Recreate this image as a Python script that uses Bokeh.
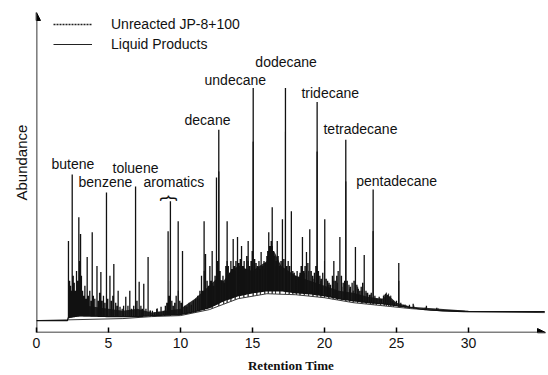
import numpy as np
from bokeh.plotting import figure
from bokeh.models import Range1d, FixedTicker, Arrow, NormalHead, Legend, LegendItem, Title
from bokeh.core.properties import value
from bokeh.embed import file_html
from bokeh.resources import INLINE

# ---------------- data ----------------
x_ticks = [0, 5, 10, 15, 20, 25, 30]

# Liquid Products: baseline (retention time, abundance)
liq_base_t = [0, 2.15, 2.2, 3, 5, 7, 8, 10, 11, 12, 13, 14, 15, 16, 17, 18, 19, 20, 21, 22, 23, 24, 25, 26, 27, 28, 30, 32, 35.3]
liq_base_y = [0, 0, 3, 5, 4, 4, 5, 6, 9, 13, 20, 25, 28, 30, 30, 28, 27, 25, 22, 20, 18, 17, 15, 13, 11, 10, 9, 9, 9]

# dense unresolved band of the liquid-product trace (lower / upper edge)
band_t = [2.2, 2.4, 3.0, 3.5, 4.0, 5.0, 6.0, 7.0, 8.0, 9.0, 10.0, 11.0, 12.0, 12.5, 13.0, 13.5, 14.0, 15.0,
          16.0, 16.5, 17.0, 18.0, 19.0, 20.0, 21.0, 22.0, 23.0, 24.0, 24.4, 25.0, 26.0, 28.0, 30.0]
band_lo = [2, 3, 4, 4, 4, 4, 4, 4, 5, 5, 6, 9, 13, 16, 20, 22, 25, 28,
           30, 30, 30, 28, 27, 25, 22, 20, 18, 17, 16, 15, 13, 10, 9]
band_hi = [20, 30, 25, 15, 14, 12, 10, 12, 8, 10, 12, 22, 35, 42, 40, 50, 55, 50,
           60, 70, 55, 45, 40, 35, 30, 28, 24, 22, 26, 18, 14, 12, 10]

# Liquid Products: peaks (retention time, apex abundance)
liq_peak_t = [2.22, 2.3, 2.36, 2.42, 2.48, 2.55, 2.62, 2.7, 2.78, 2.85, 2.94, 3.0, 3.06, 3.12, 3.2, 3.28, 3.36, 3.44,
              3.52, 3.6, 3.7, 3.8, 3.87, 3.95, 4.05, 4.2, 4.3, 4.38, 4.47, 4.55, 4.65, 4.75, 4.86, 4.95, 5.1, 5.2,
              5.3, 5.37, 5.5, 5.6, 5.67, 5.8, 5.95, 6.05, 6.2, 6.35, 6.48, 6.6, 6.75, 6.88, 6.98, 7.13, 7.25, 7.35,
              7.45, 7.6, 7.75, 7.9, 8.05, 8.2, 8.35, 8.5, 8.65, 8.8, 8.95, 9.05, 9.14, 9.22, 9.3, 9.4, 9.5, 9.6,
              9.7, 9.84, 9.95, 10.05, 10.14, 10.3, 10.45, 10.6, 10.75, 10.9, 11.05, 11.2, 11.35, 11.46, 11.55, 11.64,
              11.74, 11.85, 11.95, 12.04, 12.12, 12.2, 12.3, 12.4, 12.5, 12.58, 12.66, 12.75, 12.85, 12.95, 13.05,
              13.15, 13.24, 13.32, 13.42, 13.5, 13.58, 13.66, 13.75, 13.85, 13.96, 14.05, 14.15, 14.24, 14.33, 14.42,
              14.5, 14.6, 14.7, 14.8, 14.9, 14.98, 15.05, 15.15, 15.25, 15.35, 15.45, 15.52, 15.6, 15.7, 15.8, 15.9,
              16.0, 16.06, 16.13, 16.22, 16.3, 16.37, 16.45, 16.55, 16.65, 16.72, 16.78, 16.88, 16.98, 17.08, 17.18,
              17.29, 17.38, 17.48, 17.58, 17.7, 17.8, 17.9, 18.0, 18.1, 18.2, 18.3, 18.38, 18.47, 18.55, 18.65, 18.75,
              18.85, 18.98, 19.08, 19.18, 19.3, 19.4, 19.49, 19.58, 19.68, 19.78, 19.88, 20.02, 20.12, 20.22, 20.32,
              20.42, 20.55, 20.65, 20.75, 20.85, 20.95, 21.07, 21.18, 21.3, 21.4, 21.48, 21.58, 21.7, 21.8, 21.92,
              22.05, 22.15, 22.25, 22.35, 22.45, 22.55, 22.65, 22.76, 22.88, 23.0, 23.12, 23.25, 23.38, 23.5, 23.65,
              23.8, 23.95, 24.1, 24.25, 24.4, 24.55, 24.7, 24.85, 25.0, 25.16, 25.3, 25.5, 25.7, 25.9, 26.16, 26.4,
              26.7, 27.08, 27.4, 27.8, 28.2, 28.7, 29.2, 29.7, 30.3, 31.0, 31.8, 32.5]
liq_peak_h = [80, 40, 35, 30, 147, 45, 38, 30, 50, 40, 104, 60, 87, 45, 30, 25, 35, 22,
              64, 25, 30, 20, 89, 25, 22, 55, 20, 28, 49, 20, 25, 18, 129, 22, 45, 20,
              25, 57, 18, 15, 30, 14, 12, 15, 24, 15, 30, 12, 15, 135, 20, 39, 15, 12,
              37, 12, 64, 10, 10, 8, 12, 9, 14, 10, 15, 18, 90, 25, 120, 20, 15, 18,
              25, 100, 20, 18, 70, 15, 14, 18, 16, 20, 22, 25, 30, 45, 30, 100,
              67, 40, 35, 55, 40, 70, 35, 45, 144, 60, 192, 50, 40, 45, 38,
              55, 100, 55, 48, 60, 52, 82, 55, 60, 84, 58, 62, 75, 55, 60,
              52, 65, 80, 55, 60, 70, 234, 62, 58, 55, 60, 52, 69, 55, 60, 58,
              65, 70, 89, 75, 80, 114, 70, 65, 60, 80, 65, 55, 60, 102, 62,
              234, 55, 60, 55, 110, 50, 48, 45, 50, 44, 48, 55, 84, 50, 55, 69,
              58, 92, 50, 45, 48, 55, 220, 50, 45, 42, 48, 102, 42, 40, 38,
              36, 45, 60, 40, 45, 50, 84, 45, 38, 40, 182, 40, 36, 34, 38,
              40, 74, 36, 32, 30, 34, 38, 66, 30, 28, 26, 28, 132, 25, 22,
              24, 22, 25, 27, 26, 24, 20, 18, 20, 58, 18, 16, 15, 16, 17, 13,
              12, 15, 11, 13, 10, 10, 9, 10, 9, 9, 9, 9]

# Unreacted JP-8+100: baseline and peaks
unr_base_t = [0, 6, 8, 10, 12, 14, 16, 18, 20, 22, 24, 26, 28, 30, 35.3]
unr_base_y = [0, 2, 4, 5, 11, 22, 27, 26, 23, 18, 15, 12, 10, 9, 8]
unr_peak_t = [7.3, 7.9, 8.4, 8.9, 9.3, 9.85, 10.4, 10.9, 11.3, 11.65, 12.2, 12.66, 13.0, 13.24, 13.5, 13.8, 14.1,
              14.4, 14.7, 15.05, 15.3, 15.55, 15.85, 16.1, 16.37, 16.6, 16.9, 17.29, 17.55, 17.8, 18.05, 18.3, 18.6,
              18.9, 19.2, 19.49, 19.75, 20.0, 20.3, 20.6, 20.9, 21.2, 21.48, 21.75, 22.0, 22.3, 22.6, 22.9, 23.2,
              23.38, 23.6, 23.9, 24.15, 24.3, 24.45, 24.6, 24.8, 25.16, 25.6, 26.2, 27.0, 27.9, 29.0, 30.0]
unr_peak_h = [8, 10, 12, 10, 40, 30, 14, 18, 22, 50, 35, 150, 38, 60, 45, 50, 55,
              48, 60, 180, 50, 55, 52, 58, 75, 55, 52, 190, 50, 45, 42, 46, 48,
              50, 42, 170, 40, 60, 36, 40, 38, 34, 140, 32, 30, 34, 30, 28, 26,
              90, 22, 22, 26, 28, 27, 25, 20, 40, 16, 15, 13, 12, 10, 9]

# Peak annotations
label_text = ["butene", "benzene", "toluene", "aromatics", "decane", "undecane",
              "dodecane", "tridecane", "tetradecane", "pentadecane"]
label_t = [1.04, 2.92, 5.28, 7.43, 10.28, 11.67, 15.2, 18.4, 19.93, 22.2]
label_y = [158, 139, 154, 139, 202, 242, 260, 229, 193, 140]


def trace(bt, by, pt, ph):
    events = sorted([(t, 0, y) for t, y in zip(bt, by)] + [(t, 1, h) for t, h in zip(pt, ph)])
    xs, ys = [], []
    for t, kind, v in events:
        if kind == 0:
            xs.append(t); ys.append(v)
        else:
            b = float(np.interp(t, bt, by))
            xs += [t, t, t]; ys += [b, v, b]
    return xs, ys


X_END = 35.35
Y_START, Y_END = -12, 310

p = figure(width=548, height=375, x_range=Range1d(0, X_END), y_range=Range1d(Y_START, Y_END),
           output_backend="svg", toolbar_location=None,
           min_border_left=36, min_border_right=3, min_border_top=12, min_border_bottom=41)
p.grid.visible = False
p.outline_line_color = None
p.background_fill_color = "white"

# traces
ux, uy = trace(unr_base_t, unr_base_y, unr_peak_t, unr_peak_h)
lx, ly = trace(liq_base_t, liq_base_y, liq_peak_t, liq_peak_h)
p.line(ux, uy, line_color="#3a3a3a", line_width=1)
p.varea(x=band_t, y1=band_lo, y2=band_hi, fill_color="#1a1a1a", fill_alpha=0.92)
p.line(lx, ly, line_color="#111111", line_width=1.3)

# legend (proxy renderers placed outside the visible ranges)
r_u = p.line([-5, -4], [-60, -60], line_color="#222222", line_width=1.6, line_dash="2 1")
r_l = p.line([-5, -4], [-60, -60], line_color="#222222", line_width=1.2)
legend = Legend(items=[LegendItem(label="Unreacted JP-8+100", renderers=[r_u]),
                       LegendItem(label="Liquid Products", renderers=[r_l])],
                location=(17, 279), orientation="vertical",
                glyph_width=39, glyph_height=18, label_height=18, spacing=2,
                label_standoff=19, padding=0, margin=0,
                border_line_color=None, background_fill_alpha=0,
                label_text_font="Liberation Sans", label_text_font_size="14px",
                label_text_color="#111111")
p.add_layout(legend)

# peak labels
p.text(x=label_t, y=label_y, text=label_text, text_font=value("Liberation Sans"),
       text_font_size="14px", text_align="left", text_baseline="middle", text_color="#111111")
# brace over aromatics
p.text(x=[9.3], y=[123], text=["{"], angle=-np.pi / 2, text_font=value("Liberation Sans"),
       text_font_size="18px", text_align="center", text_baseline="middle", text_color="#111111")

# x axis
xa = p.xaxis[0]
xa.ticker = FixedTicker(ticks=x_ticks)
xa.axis_line_color = None
xa.major_tick_in = 5
xa.major_tick_out = 0
xa.major_tick_line_width = 1.5
xa.minor_tick_line_color = None
xa.major_label_standoff = 5
xa.major_label_text_font = "Liberation Sans"
xa.major_label_text_font_size = "14px"
xa.major_label_text_color = "#111111"
xa.axis_label = "Retention Time"
xa.axis_label_text_font = "Liberation Serif"
xa.axis_label_text_font_style = "bold"
xa.axis_label_text_font_size = "13px"
xa.axis_label_standoff = 7
xa.axis_label_text_color = "#111111"

# y axis: no ticks; its title is a side Title so it can be shifted upward
ya = p.yaxis[0]
ya.ticker = FixedTicker(ticks=[])
ya.axis_line_color = None
ya.major_tick_line_color = None
ya.minor_tick_line_color = None
ya.major_label_text_font_size = "0px"
p.add_layout(Title(text="Abundance", align="left", offset=132, standoff=14,
                   text_font="Liberation Sans", text_font_size="15px",
                   text_font_style="normal", text_color="#111111"), "left")

# axis arrows
p.add_layout(Arrow(end=NormalHead(size=8, fill_color="black", line_color="black"),
                   x_start=0, y_start=Y_START, x_end=X_END, y_end=Y_START,
                   line_width=1.6, line_color="black"))
p.add_layout(Arrow(end=NormalHead(size=8, fill_color="black", line_color="black"),
                   x_start=0, y_start=Y_START, x_end=0, y_end=Y_END,
                   line_width=1.6, line_color="black"))

open("out.html", "w").write(file_html(p, INLINE))
